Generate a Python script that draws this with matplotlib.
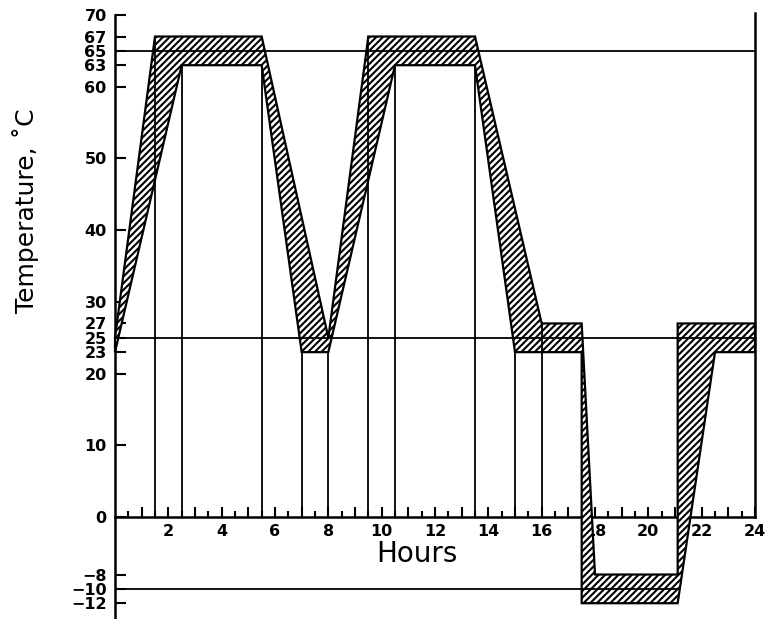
import numpy as np
import matplotlib
matplotlib.use("Agg")
import matplotlib.pyplot as plt

# upper (max) and lower (min) temperature profiles over the day
upper_hours = [0, 1.5, 5.5, 8, 9.5, 13.5, 16, 17.5, 18, 21.1, 21.1, 24]
upper_temps = [25, 67, 67, 25, 67, 67, 27, 27, -8, -8, 27, 27]
lower_hours = [0, 2.5, 5.5, 7, 8, 10.5, 13.5, 15, 17.5, 17.5, 21.1, 22.5, 24]
lower_temps = [23, 63, 63, 23, 23, 63, 63, 23, 23, -12, -12, 23, 23]

# drop lines from the profile corners down to the hour axis
drop_hours = [1.5, 2.5, 5.5, 7, 8, 9.5, 10.5, 13.5, 15, 16]
drop_tops = [67, 63, 63, 23, 23, 67, 63, 63, 23, 27]

# reference levels: (temperature, hour where the line ends)
ref_temps = [65, 25, -10]
ref_ends = [24, 24, 21.1]

y_ticks = [70, 67, 65, 63, 60, 50, 40, 30, 27, 25, 23, 20, 10, 0, -8, -10, -12]
hour_ticks = list(range(1, 25))

plt.rcParams["hatch.linewidth"] = 1.5

fig = plt.figure(figsize=(7.71, 6.19), dpi=100)
ax = fig.add_axes([115 / 771, 0, 640 / 771, 604 / 619])
ax.set_xlim(0, 24)
ax.set_ylim(-14.2, 70)

for s in ["top", "right"]:
    ax.spines[s].set_visible(False)
ax.spines["left"].set_position(("data", 0))
ax.spines["bottom"].set_position(("data", 0))
ax.spines["left"].set_linewidth(1.8)
ax.spines["bottom"].set_linewidth(1.8)

# hatched band between the two profiles
poly_x = np.r_[upper_hours, lower_hours[::-1]]
poly_y = np.r_[upper_temps, lower_temps[::-1]]
ax.fill(poly_x, poly_y, facecolor="white", edgecolor="black",
        hatch="/////", linewidth=1.6, zorder=3, clip_on=False)

for h, top in zip(drop_hours, drop_tops):
    ax.plot([h, h], [0, top], color="black", lw=1.3, zorder=4)

for t, end in zip(ref_temps, ref_ends):
    ax.plot([0, end], [t, t], color="black", lw=1.3, zorder=4)

ax.plot([24, 24], [0, 70.3], color="black", lw=1.8, zorder=4, clip_on=False)

ax.set_yticks(y_ticks)
ax.set_xticks(hour_ticks,
              labels=[str(h) if h % 2 == 0 else "" for h in hour_ticks])
ax.set_xticks(np.arange(0.5, 24, 1.0), minor=True)

ax.tick_params(axis="y", direction="in", length=8, width=1.5, pad=6,
               labelsize=11.5)
ax.tick_params(axis="x", which="major", direction="in", length=7,
               width=1.5, pad=5, labelsize=11.5)
ax.tick_params(axis="x", which="minor", direction="in", length=4, width=1.5)
for lab in ax.get_xticklabels() + ax.get_yticklabels():
    lab.set_fontweight("bold")

fig.text(26 / 771, 1 - 211 / 619, "Temperature, \u02daC", rotation=90,
         ha="center", va="center", fontsize=18)
fig.text(417 / 771, 1 - 562 / 619, "Hours", ha="center", va="baseline",
         fontsize=20)

fig.savefig("out.png", dpi=100)
